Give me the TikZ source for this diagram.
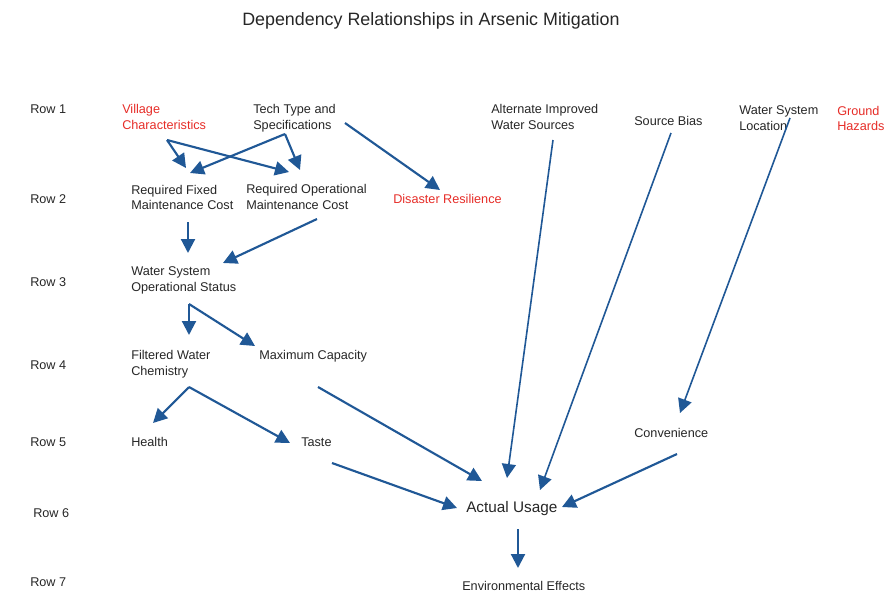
\documentclass[tikz,border=0pt]{standalone}
\usepackage{fontspec}
\setmainfont{Liberation Sans}
\usetikzlibrary{arrows.meta}
\definecolor{arrowblue}{RGB}{32,88,150}
\definecolor{labelred}{RGB}{230,45,40}
\tikzset{
  lbl/.style={anchor=west, inner sep=0pt, align=left, font=\fontsize{9.5}{11.8}\selectfont, text=black!85},
  redlbl/.style={lbl, text=labelred},
  dep/.style={draw=arrowblue, line width=1.6pt, -{Triangle[length=10.5pt,width=10.5pt]}},
  longdep/.style={dep, line width=1.2pt},
}
\begin{document}
\begin{tikzpicture}[x=0.75pt,y=-0.75pt]
\useasboundingbox (0,0) rectangle (890,594);
% title
\node[lbl, font=\fontsize{13.4}{16}\selectfont] (title) at (242,20.5) {Dependency Relationships in Arsenic Mitigation};
% row labels
\node[lbl] (r1) at (30,109) {Row 1};
\node[lbl] (r2) at (30,199) {Row 2};
\node[lbl] (r3) at (30,282) {Row 3};
\node[lbl] (r4) at (30,365) {Row 4};
\node[lbl] (r5) at (30,442) {Row 5};
\node[lbl] (r6) at (33,513) {Row 6};
\node[lbl] (r7) at (30,582) {Row 7};
% row 1
\node[redlbl] (vc) at (122,117) {Village\\Characteristics};
\node[lbl] (tt) at (253,118) {Tech Type and\\Specifications};
\node[lbl] (ai) at (491,117) {Alternate Improved\\Water Sources};
\node[lbl] (sb) at (634,121) {Source Bias};
\node[lbl] (wl) at (739,118) {Water System\\Location};
\node[redlbl] (gh) at (837,118.5) {Ground\\Hazards};
% row 2
\node[lbl] (rf) at (131,197.5) {Required Fixed\\Maintenance Cost};
\node[lbl] (ro) at (246,197) {Required Operational\\Maintenance Cost};
\node[redlbl] (dr) at (393,199) {Disaster Resilience};
% row 3
\node[lbl] (ws) at (131,280.5) {Water System\\Operational Status};
% row 4
\node[lbl] (fw) at (131,364) {Filtered Water\\Chemistry};
\node[lbl] (mc) at (259,356) {Maximum Capacity};
% row 5
\node[lbl] (he) at (131,442) {Health};
\node[lbl] (ta) at (301,442) {Taste};
\node[lbl] (cv) at (634,433) {Convenience};
% row 6
\node[lbl, font=\fontsize{11.5}{14}\selectfont] (au) at (466,509) {Actual Usage};
% row 7
\node[lbl] (ee) at (462,586) {Environmental Effects};
% connectors
\draw[dep] ([shift={(45,23)}]vc.west) -- ([shift={(55,-29.5)}]rf.west);
\draw[dep] ([shift={(45,23)}]vc.west) -- ([shift={(43,-25)}]ro.west);
\draw[dep] ([shift={(32,16)}]tt.west) -- ([shift={(59,-24.5)}]rf.west);
\draw[dep] ([shift={(32,16)}]tt.west) -- ([shift={(54,-27)}]ro.west);
\draw[dep] ([shift={(92,5)}]tt.west) -- ([shift={(47,-9)}]dr.west);
\draw[dep] ([shift={(57,24.5)}]rf.west) -- ([shift={(57,-27.5)}]ws.west);
\draw[dep] ([shift={(71,22)}]ro.west) -- ([shift={(92,-17.5)}]ws.west);
\draw[dep] ([shift={(58,23.5)}]ws.west) -- ([shift={(58,-29)}]fw.west);
\draw[dep] ([shift={(58,23.5)}]ws.west) -- ([shift={(-4,-10)}]mc.west);
\draw[dep] ([shift={(58,23)}]fw.west) -- ([shift={(22,-19)}]he.west);
\draw[dep] ([shift={(58,23)}]fw.west) -- ([shift={(-11,1)}]ta.west);
\draw[dep] ([shift={(59,31)}]mc.west) -- ([shift={(16,-28)}]au.west);
\draw[longdep] ([shift={(62,23)}]ai.west) -- ([shift={(41,-31)}]au.west);
\draw[longdep] ([shift={(37,12)}]sb.west) -- ([shift={(74,-19)}]au.west);
\draw[longdep] ([shift={(51,0)}]wl.west) -- ([shift={(46,-20)}]cv.west);
\draw[dep] ([shift={(43,21)}]cv.west) -- ([shift={(96,-2)}]au.west);
\draw[dep] ([shift={(31,21)}]ta.west) -- ([shift={(-9,-1)}]au.west);
\draw[dep] ([shift={(52,20)}]au.west) -- ([shift={(56,-18)}]ee.west);
\end{tikzpicture}
\end{document}
